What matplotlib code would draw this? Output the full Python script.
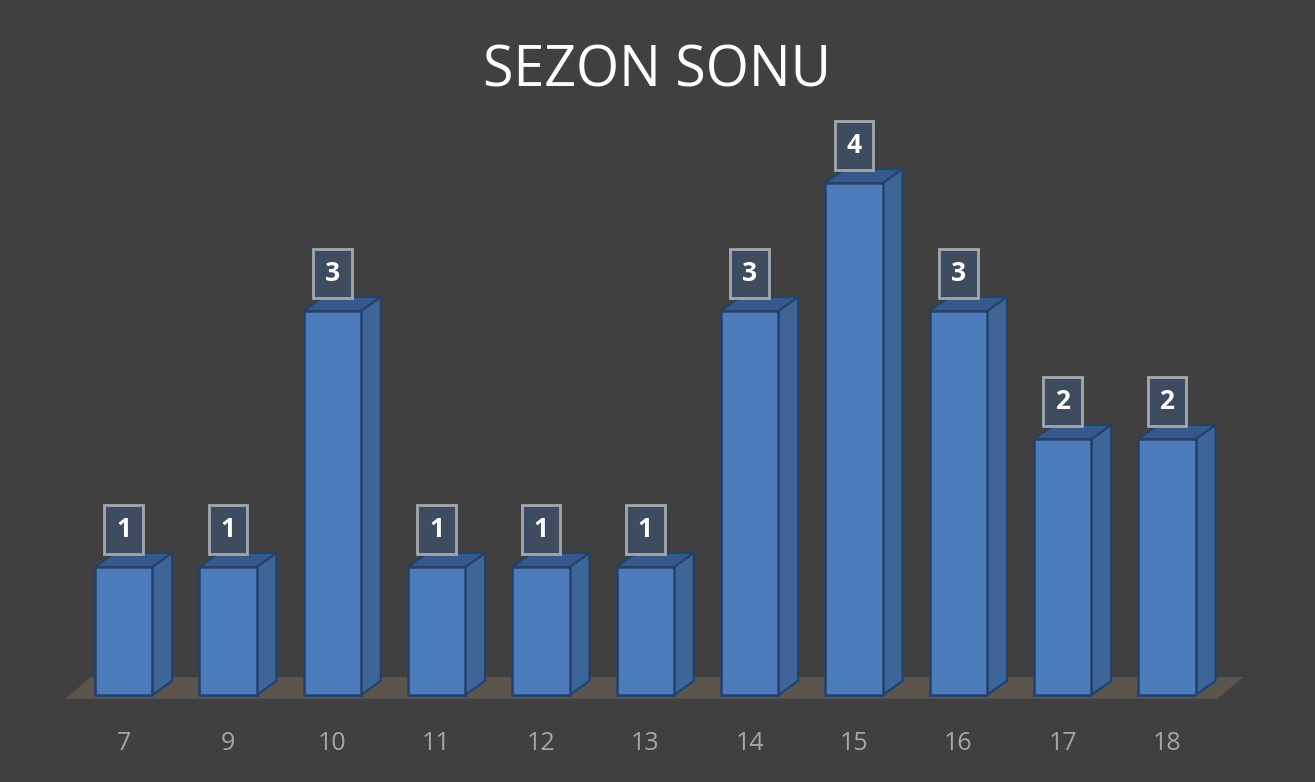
import numpy as np
import matplotlib
matplotlib.use("Agg")
import matplotlib.pyplot as plt
from matplotlib.patches import Polygon, Rectangle

# veriler
categories = ["7", "9", "10", "11", "12", "13", "14", "15", "16", "17", "18"]
values = [1, 1, 3, 1, 1, 1, 3, 4, 3, 2, 2]
title = "SEZON SONU"

BG = "#404040"
FRONT = "#4c7dba"
SIDE = "#3e6597"
TOP = "#36598b"
EDGE = "#22416b"

fig = plt.figure(figsize=(13.15, 7.82), dpi=100, facecolor=BG)
bottom = (782 - 707.8) / 782
ax = fig.add_axes([60.9 / 1315, bottom, 1168.7 / 1315, 0.8478 - bottom])
ax.set_facecolor(BG)
ax.set_xlim(-0.6, 10.6)
ax.set_ylim(-0.1, 4.5)

x = np.arange(len(categories))
w = 0.55             # on yuz genisligi
dx, dy = 0.19, 0.11  # derinlik kaymasi

# zemin
fx0, fx1 = x[0] - 0.56, x[-1] + 0.48
floor = Polygon([(fx0, -0.03), (fx1, -0.03), (fx1 + 0.25, 0.14), (fx0 + 0.25, 0.14)],
                closed=True, facecolor="#5b554d", edgecolor="none", zorder=1,
                clip_on=False)
ax.add_patch(floor)

ax.bar(x, values, width=w, color=FRONT, edgecolor=EDGE, linewidth=1.8, zorder=3)
for xi, v in zip(x, values):
    r = xi + w / 2
    l = xi - w / 2
    side = Polygon([(r, 0), (r + dx, dy), (r + dx, v + dy), (r, v)],
                   facecolor=SIDE, edgecolor=EDGE, linewidth=1.5, zorder=2)
    top = Polygon([(l, v), (r, v), (r + dx, v + dy), (l + dx, v + dy)],
                  facecolor=TOP, edgecolor=EDGE, linewidth=1.5, zorder=2)
    ax.add_patch(side)
    ax.add_patch(top)
    # etiket kutusu
    bw, bh = 0.37, 0.38
    box = Rectangle((xi - bw / 2, v + 0.105), bw, bh, facecolor="#3e4c60",
                    edgecolor="#a3a8b0", linewidth=2, zorder=5, clip_on=False)
    ax.add_patch(box)
    ax.text(xi, v + 0.105 + bh / 2, str(v), ha="center", va="center",
            color="white", fontsize=19, fontweight="bold", zorder=6,
            family="Open Sans", clip_on=False)

ax.set_xticks(x)
ax.set_xticklabels(categories, color="#a6a6a6", fontsize=18, family="Open Sans")
ax.tick_params(axis="x", length=0, pad=17)
ax.set_yticks([])
for s in ax.spines.values():
    s.set_visible(False)

fig.text(0.5, 1 - 72 / 782, title, ha="center", va="center", color="white",
         fontsize=40, family="Open Sans")

fig.savefig("out.png", dpi=100, facecolor=BG)
